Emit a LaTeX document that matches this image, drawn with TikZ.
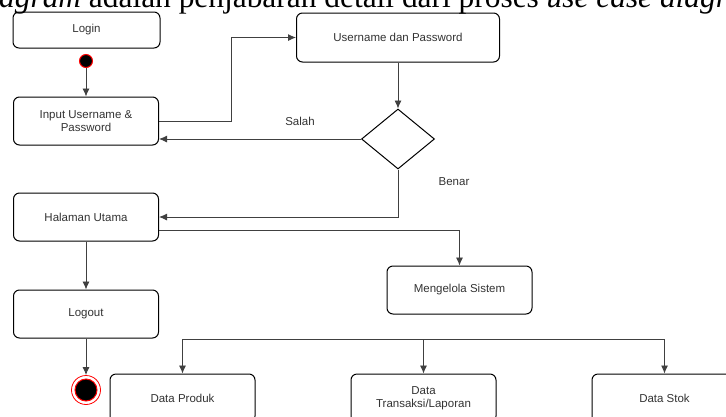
\documentclass[tikz,border=0pt]{standalone}
\usepackage{fontspec}
\setmainfont{Liberation Sans}
\newfontfamily\bodyserif{Liberation Serif}
\usetikzlibrary{arrows.meta,shapes.geometric}

\begin{document}
\begin{tikzpicture}[x=1pt,y=-1pt,
  act/.style={draw, rounded corners=6pt, line width=1pt, minimum width=145pt,
    minimum height=48pt, align=center, font=\fontsize{11.5}{13.5}\selectfont, text=black!80},
  lbl/.style={font=\fontsize{11.5}{13.5}\selectfont, text=black!80},
  flow/.style={line width=0.9pt, draw=black!75, -{Latex[length=8pt,width=7pt]}}]
\useasboundingbox (0,0) rectangle (726,416);
\clip (0,0) rectangle (726,416);
\fill[white] (0,0) rectangle (726,416);
\node[anchor=base west, inner sep=0pt, font=\bodyserif\fontsize{31.4}{35}\selectfont] (head) at (-56,7)
  {\textit{ty diagram} adalah penjabaran detail dari proses \textit{use case diagram}};
\node[act, minimum height=36pt, minimum width=147pt] (login) at (86.5,30) {Login};
\node[circle, fill=black, draw=red, line width=1pt, minimum size=13pt, inner sep=0pt] (start) at (86,61) {};
\node[act] (input) at (86,121) {Input Username \&\\Password};
\node[act, minimum width=203pt, minimum height=49pt] (user) at (398,37.5) {Username dan Password};
\node[diamond, draw, line width=1pt, minimum width=73pt, minimum height=60pt, inner sep=0pt] (cek) at (398,139) {};
\node[act] (utama) at (86,217) {Halaman Utama};
\node[act] (kelola) at (459.5,290) {Mengelola Sistem};
\node[act] (logout) at (86,314) {Logout};
\node[circle, draw=red, line width=0.8pt, minimum size=29pt, inner sep=0pt] (stop) at (86,390) {};
\node[circle, fill=black, draw=red, line width=1pt, minimum size=22pt, inner sep=0pt] at (stop) {};
\node[act] (produk) at (182.5,398) {Data Produk};
\node[act] (transaksi) at (423.5,398) {Data\\Transaksi/Laporan};
\node[act] (stok) at (664.5,398) {Data Stok};
\node[lbl] (salah) at (300,121) {Salah};
\node[lbl] (benar) at (454,182) {Benar};
\coordinate (busL) at (182.5,339);
\coordinate (busR) at (664.5,339);

\draw[flow] (start) -- (input);
\draw[flow] (input.east) -- ++(72,0) |- (user.west);
\draw[flow] (user) -- (cek);
\draw[flow] (cek.west) -- (cek.west -| input.east);
\draw[flow] (cek.south) |- (utama.east);
\draw[flow] ([yshift=-13pt]utama.east) -| (kelola.north);
\draw[flow] (utama) -- (logout);
\draw[flow] (logout) -- (stop);
\draw[line width=0.9pt, draw=black!75] (busL) -- (busR);
\foreach \dst in {produk,transaksi,stok}
  \draw[flow] (busL -| \dst.north) -- (\dst.north);
\end{tikzpicture}
\end{document}
